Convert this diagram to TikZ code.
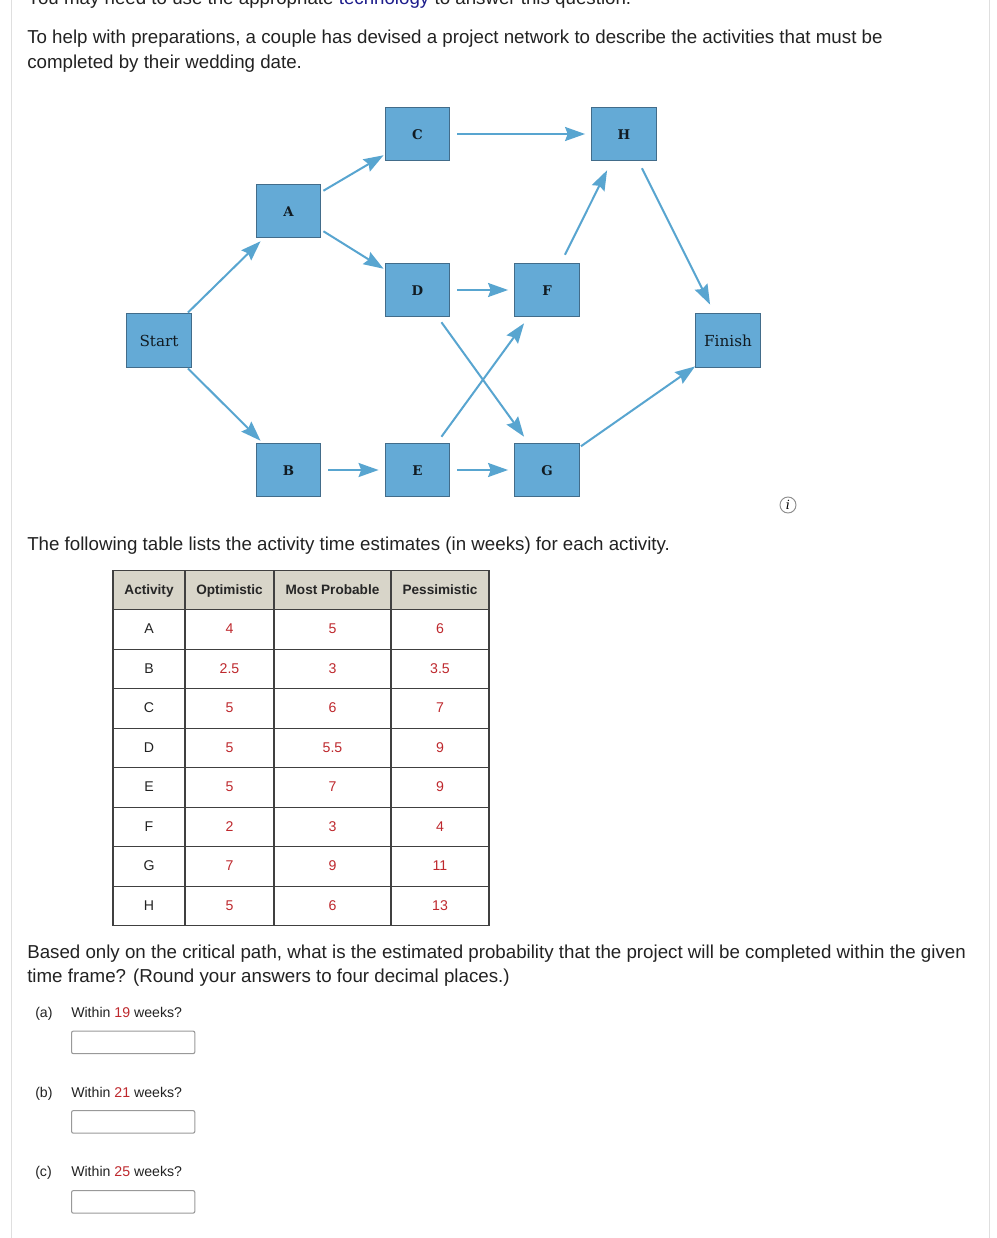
\documentclass[tikz,border=0pt]{standalone}
\usepackage{fontspec}
\setmainfont{Liberation Sans}
\newfontfamily\boxfont{DejaVu Serif}
\usetikzlibrary{arrows.meta,positioning}
\definecolor{boxblue}{RGB}{100,170,214}
\definecolor{boxedge}{RGB}{66,108,138}
\definecolor{arrblue}{RGB}{88,165,208}
\definecolor{headtan}{RGB}{216,213,201}
\definecolor{valred}{RGB}{190,40,45}
\definecolor{inktext}{RGB}{34,34,34}
\definecolor{linkblue}{RGB}{30,30,140}
\tikzset{
  actnode/.style={rectangle,fill=boxblue,draw=boxedge,line width=0.9pt,minimum width=48.5pt,
    minimum height=40pt,inner sep=0pt,text height=7.5pt,text depth=0pt,
    font=\boxfont\fontsize{10}{12}\selectfont\bfseries,text=black!75!boxedge},
  endnode/.style={actnode,minimum height=41pt,text height=8.5pt,font=\boxfont\fontsize{11.4}{13}\selectfont},
  arr/.style={-{Stealth[length=15pt,width=10.5pt,inset=2pt]},line width=1.5pt,draw=arrblue},
  para/.style={anchor=base west,inner sep=0pt,text=inktext,font=\fontsize{14.04}{17}\selectfont},
  qtxt/.style={anchor=base west,inner sep=0pt,text=inktext,font=\fontsize{10.6}{13}\selectfont},
  ansbox/.style={rectangle,rounded corners=1.5pt,draw=gray!80,line width=0.8pt,minimum width=92.5pt,
    minimum height=17pt,inner sep=0pt,anchor=north west},
  cell/.style={rectangle,draw=black!75,line width=0.9pt,inner sep=0pt,minimum height=29.6pt,
    text height=8pt,text depth=1.5pt,font=\fontsize{10.6}{13}\selectfont},
  hcell/.style={cell,fill=headtan,text=black!85,font=\fontsize{10.2}{13}\selectfont\bfseries},
  vcell/.style={cell,text=valred},
  acell/.style={cell,text=inktext},
  cola/.style={minimum width=54pt},
  colo/.style={minimum width=66.75pt},
  colm/.style={minimum width=87.75pt},
  colp/.style={minimum width=73.5pt}
}
\begin{document}
\begin{tikzpicture}[x=0.75pt,y=-0.75pt]
\useasboundingbox (0,0) rectangle (996,1238);
\clip (0,0) rectangle (996,1238);
\fill[white] (0,0) rectangle (996,1238);

% Page edges
\draw[gray!25,line width=0.75pt] (11,0) -- (11,1238);
\draw[gray!25,line width=0.75pt] (989,0) -- (989,1238);

% Question text
\node[para] (intro0) at (27,5) {You may need to use the appropriate \textcolor{linkblue}{technology} to answer this question.};
\node[para] (intro1) at (27,44) {To help with preparations, a couple has devised a project network to describe the activities that must be};
\node[para] (intro2) at (27,69) {completed by their wedding date.};
\node[para] (tabtxt) at (27,550) {The following table lists the activity time estimates (in weeks) for each activity.};
\node[para] (ask1) at (27,958) {Based only on the critical path, what is the estimated probability that the project will be completed within the given};
\node[para] (ask2) at (27,982) {time frame? (Round your answers to four decimal places.)};

% Network
\node[endnode] (start) at (159,340.5) {Start};
\node[actnode] (nA) at (288.5,211) {A};
\node[actnode] (nB) at (288.5,470) {B};
\node[actnode] (nC) at (417.5,134) {C};
\node[actnode] (nD) at (417.5,290) {D};
\node[actnode] (nE) at (417.5,470) {E};
\node[actnode] (nF) at (547,290) {F};
\node[actnode] (nG) at (547,470) {G};
\node[actnode] (nH) at (624,134) {H};
\node[endnode] (finish) at (728,340.5) {Finish};

\draw[arr] ([shift={(-4,0)}]start.north east) -- ([shift={(5,3)}]nA.south west);
\draw[arr] ([shift={(-4,0)}]start.south east) -- ([shift={(5,-2)}]nB.north west);
\draw[arr] ([shift={(2,7)}]nA.north east) -- ([shift={(-1,-6)}]nC.south west);
\draw[arr] ([shift={(2,-7)}]nA.south east) -- ([shift={(-1,6)}]nD.north west);
\draw[arr] ([shift={(7,0)}]nC.east) -- ([shift={(-6,0)}]nH.west);
\draw[arr] ([shift={(7,0)}]nD.east) -- ([shift={(-6,0)}]nF.west);
\draw[arr] ([shift={(7,0)}]nB.east) -- ([shift={(-6,0)}]nE.west);
\draw[arr] ([shift={(7,0)}]nE.east) -- ([shift={(-6,0)}]nG.west);
\draw[arr] ([shift={(-15,7)}]nH.south east) -- ([shift={(15,-8)}]finish.north west);
\draw[arr] ([shift={(-15,-8)}]nF.north east) -- ([shift={(16,9)}]nH.south west);
\draw[arr] ([shift={(-9,5)}]nD.south east) -- ([shift={(10,-6)}]nG.north west);
\draw[arr] ([shift={(-9,-6)}]nE.north east) -- ([shift={(10,6)}]nF.south west);
\draw[arr] ([shift={(1,-51)}]nG.south east) -- ([shift={(0,-2)}]finish.south west);

% Info mark
\node[circle,draw=gray!90,line width=0.7pt,minimum size=12pt,inner sep=0pt,
  font=\boxfont\itshape\fontsize{9.5}{10}\selectfont] (info) at (788,505) {i};

% Table
\node[hcell,cola] (h1) at (149,590) {Activity};
\node[hcell,colo] (h2) at (229.5,590) {Optimistic};
\node[hcell,colm] (h3) at (332.5,590) {Most Probable};
\node[hcell,colp] (h4) at (440,590) {Pessimistic};

\node[acell,cola] (a1) at (149,629.5) {A};
\node[vcell,colo] (a2) at (229.5,629.5) {4};
\node[vcell,colm] (a3) at (332.5,629.5) {5};
\node[vcell,colp] (a4) at (440,629.5) {6};

\node[acell,cola] (b1) at (149,669) {B};
\node[vcell,colo] (b2) at (229.5,669) {2.5};
\node[vcell,colm] (b3) at (332.5,669) {3};
\node[vcell,colp] (b4) at (440,669) {3.5};

\node[acell,cola] (c1) at (149,708.5) {C};
\node[vcell,colo] (c2) at (229.5,708.5) {5};
\node[vcell,colm] (c3) at (332.5,708.5) {6};
\node[vcell,colp] (c4) at (440,708.5) {7};

\node[acell,cola] (d1) at (149,748) {D};
\node[vcell,colo] (d2) at (229.5,748) {5};
\node[vcell,colm] (d3) at (332.5,748) {5.5};
\node[vcell,colp] (d4) at (440,748) {9};

\node[acell,cola] (e1) at (149,787.5) {E};
\node[vcell,colo] (e2) at (229.5,787.5) {5};
\node[vcell,colm] (e3) at (332.5,787.5) {7};
\node[vcell,colp] (e4) at (440,787.5) {9};

\node[acell,cola] (f1) at (149,827) {F};
\node[vcell,colo] (f2) at (229.5,827) {2};
\node[vcell,colm] (f3) at (332.5,827) {3};
\node[vcell,colp] (f4) at (440,827) {4};

\node[acell,cola] (g1) at (149,866.5) {G};
\node[vcell,colo] (g2) at (229.5,866.5) {7};
\node[vcell,colm] (g3) at (332.5,866.5) {9};
\node[vcell,colp] (g4) at (440,866.5) {11};

\node[acell,cola] (i1) at (149,906) {H};
\node[vcell,colo] (i2) at (229.5,906) {5};
\node[vcell,colm] (i3) at (332.5,906) {6};
\node[vcell,colp] (i4) at (440,906) {13};

% Parts
\node[qtxt] (pa) at (35,1017) {(a)};
\node[qtxt] (qa) at (71,1017) {Within \textcolor{valred}{19} weeks?};
\node[ansbox] (boxa) at (71,1030.5) {};
\node[qtxt] (pb) at (35,1097) {(b)};
\node[qtxt] (qb) at (71,1097) {Within \textcolor{valred}{21} weeks?};
\node[ansbox] (boxb) at (71,1110) {};
\node[qtxt] (pc) at (35,1176) {(c)};
\node[qtxt] (qc) at (71,1176) {Within \textcolor{valred}{25} weeks?};
\node[ansbox] (boxc) at (71,1190) {};

\end{tikzpicture}
\end{document}
